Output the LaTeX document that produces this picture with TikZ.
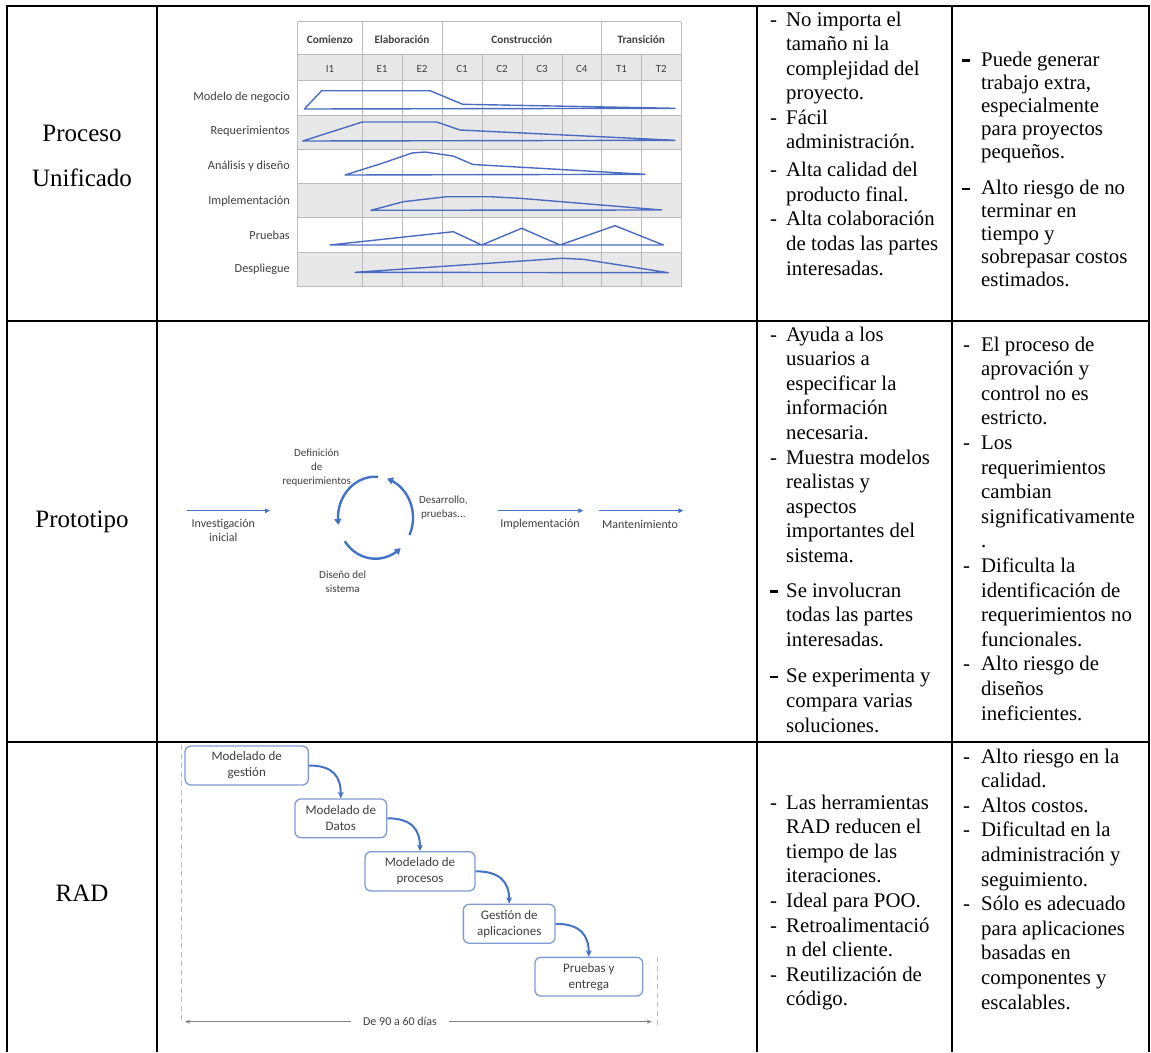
\documentclass[tikz,border=0pt]{standalone}
\usepackage{fontspec}
\setmainfont{Liberation Serif}
\newfontfamily\tnr{Liberation Serif}
\newfontfamily\calib{Carlito}
\usetikzlibrary{arrows.meta}
\definecolor{upblue}{HTML}{4A6CC0}
\definecolor{gridgray}{HTML}{BBBBBB}
\definecolor{cellgray}{HTML}{E8E8E8}
\definecolor{dtext}{HTML}{404040}
\definecolor{arrblue}{HTML}{4472C4}
\definecolor{boxblue}{HTML}{7F9BD0}
\definecolor{dashgray}{HTML}{BDBDBD}
\definecolor{hgray}{HTML}{808080}
\newcommand\bhy{\rule[4.4pt]{7.5pt}{2.6pt}}
\begin{document}
\begin{tikzpicture}[x=1pt,y=-1pt,
  tline/.style={line width=2pt,black},
  ugrid/.style={gridgray,line width=0.9pt},
  ushape/.style={upblue,line width=1.4pt,line join=round},
  ulbl/.style={inner sep=0pt,anchor=east,text=dtext,font=\calib\fontsize{12.3}{14}\selectfont},
  uhead/.style={inner sep=0pt,text=dtext,font=\calib\bfseries\fontsize{11.3}{13}\selectfont},
  uiter/.style={inner sep=0pt,text=dtext,font=\calib\fontsize{11}{13}\selectfont},
  parrow/.style={arrblue,line width=1.3pt,-{Triangle[length=5pt,width=4.5pt]}},
  cyc/.style={arrblue,line width=2.4pt,-{Triangle[length=6pt,width=7pt]}},
  plab/.style={inner sep=0pt,align=center,text=dtext,font=\calib\fontsize{12}{14}\selectfont},
  slab/.style={inner sep=0pt,align=center,text=dtext,font=\calib\fontsize{11}{14}\selectfont},
  radbox/.style={draw=boxblue,line width=1.3pt,rounded corners=6pt,fill=white,align=center,
     text=dtext,inner sep=0pt,font=\calib\fontsize{13}{16}\selectfont},
  radarrow/.style={arrblue,line width=2pt,-{Stealth[length=6.5pt,width=6pt]}},
  gline/.style={dashgray,line width=1pt,dash pattern=on 5pt off 4pt},
  garrow/.style={hgray,line width=1pt,{Stealth[length=5pt,width=4pt]}-{Stealth[length=5pt,width=4pt]}},
  cell/.style={inner sep=0pt,anchor=base west,font=\tnr\fontsize{20.8}{24.6}\selectfont},
  cellb/.style={inner sep=0pt,anchor=base west,font=\tnr\fontsize{20.8}{23.1}\selectfont},
  lab/.style={inner sep=0pt,anchor=base,font=\tnr\fontsize{25}{30}\selectfont}]
\useasboundingbox (0,0) rectangle (1151,1052);
\fill[white] (0,0) rectangle (1151,1052);

% ---------- table frame ----------
\draw[tline] (7,6) -- (1149,6);
\draw[tline] (7,321) -- (1149,321);
\draw[tline] (7,742) -- (1149,742);
\foreach \xx in {7,157,757,952,1149} \draw[tline] (\xx,5) -- (\xx,1052);

% ---------- left labels ----------
\node[lab] (l1a) at (82,141) {Proceso};
\node[lab] (l1b) at (82,186) {Unificado};
\node[lab] (l2) at (82,527) {Prototipo};
\node[lab] (l3) at (82,901) {RAD};

% ---------- Unified Process chart ----------
\fill[cellgray] (297.5,54.3) rectangle (681,80.7);
\fill[cellgray] (297.5,115) rectangle (681,149.3);
\fill[cellgray] (297.5,183.6) rectangle (681,217.9);
\fill[cellgray] (297.5,252.2) rectangle (681,286.5);
\foreach \yy in {21.7,54.3,80.7,115,149.3,183.6,217.9,252.2,286.5}
  \draw[ugrid] (297.5,\yy) -- (681,\yy);
\foreach \xx in {297.5,362,442,601.5,681}
  \draw[ugrid] (\xx,21.7) -- (\xx,286.5);
\foreach \xx in {402,482,522,562,641.5}
  \draw[ugrid] (\xx,54.3) -- (\xx,286.5);
\node[uhead] (h1) at (330,39.3) {Comienzo};
\node[uhead] (h2) at (402,39.3) {Elaboración};
\node[uhead] (h3) at (521.8,39.3) {Construcción};
\node[uhead] (h4) at (641.3,39.3) {Transición};
\node[uiter] (i1) at (330,68.5) {I1};
\node[uiter] (e1) at (382,68.5) {E1};
\node[uiter] (e2) at (422,68.5) {E2};
\node[uiter] (c1) at (462,68.5) {C1};
\node[uiter] (c2) at (502,68.5) {C2};
\node[uiter] (c3) at (542,68.5) {C3};
\node[uiter] (c4) at (581.8,68.5) {C4};
\node[uiter] (t1) at (621.5,68.5) {T1};
\node[uiter] (t2) at (661.3,68.5) {T2};
\node[ulbl] (d1) at (290,97.3) {Modelo de negocio};
\node[ulbl] (d2) at (290,131.7) {Requerimientos};
\node[ulbl] (d3) at (290,166) {Análisis y diseño};
\node[ulbl] (d4) at (290,201) {Implementación};
\node[ulbl] (d5) at (290,235.3) {Pruebas};
\node[ulbl] (d6) at (290,269.3) {Despliegue};
\draw[ushape] (304.3,109) -- (321.7,90.7) -- (430,90.7) -- (462.7,104.3) -- (675,108.3) -- cycle;
\draw[ushape] (302.7,141) -- (362.3,122) -- (436.7,122) -- (460,130) -- (675,140.3) -- cycle;
\draw[ushape] (345,175) -- (383,163) -- (412,153) -- (425,152) -- (453,156) -- (473,164.5) -- (645,174.3) -- cycle;
\draw[ushape] (371,210.3) -- (403.3,201.7) -- (446.7,196.7) -- (490,196.7) -- (520,198.3) -- (661.7,210) -- cycle;
\draw[ushape] (330,245) -- (453.3,231.7) -- (481.7,245) -- (521.7,228.3) -- (560,245) -- (615,225.7) -- (663.3,245) -- cycle;
\draw[ushape] (355,272.3) -- (561.7,258.3) -- (583.3,259.3) -- (668.3,272.7) -- cycle;

% ---------- Prototype diagram ----------
\coordinate (a1s) at (186.7,510.7); \coordinate (a1e) at (270,510.7);
\coordinate (a2s) at (498.3,510.7); \coordinate (a2e) at (583.3,510.7);
\coordinate (a3s) at (599.3,510.7); \coordinate (a3e) at (683.3,510.7);
\draw[parrow] (a1s) -- (a1e);
\draw[parrow] (a2s) -- (a2e);
\draw[parrow] (a3s) -- (a3e);
\node[plab] (pinv) at (223.3,530) {Investigación\\inicial};
\node[plab] (pimp) at (540,524) {Implementación};
\node[plab] (pman) at (640,524) {Mantenimiento};
\node[slab] (pdef) at (316.7,467.7) {Definición\\de\\requerimientos};
\node[slab] (pdes) at (443.3,507.5) {Desarrollo,\\pruebas...};
\node[slab] (pdis) at (342.7,582) {Diseño del\\sistema};
\draw[cyc] plot[domain=86:190,samples=40] ({375.5+37.5*cos(\x)},{517.7-41*sin(\x)});
\draw[cyc] plot[domain=215:312,samples=40] ({375.5+37.5*cos(\x)},{517.7-41*sin(\x)});
\draw[cyc] plot[domain=-25:72,samples=40] ({375.5+37.5*cos(\x)},{517.7-41*sin(\x)});

% ---------- RAD diagram ----------
\coordinate (v1a) at (181.7,745); \coordinate (v1b) at (181.7,1020);
\coordinate (v2a) at (657.3,957); \coordinate (v2b) at (657.3,1025);
\draw[gline] (v1a) -- (v1b);
\draw[gline] (v2a) -- (v2b);
\node[radbox,minimum width=123.3pt,minimum height=39pt] (b1) at (246.7,765.5) {Modelado de\\gestión};
\node[radbox,minimum width=91.7pt,minimum height=38.7pt] (b2) at (340.8,818.3) {Modelado de\\Datos};
\node[radbox,minimum width=110pt,minimum height=39.3pt] (b3) at (420,871.3) {Modelado de\\procesos};
\node[radbox,minimum width=91.7pt,minimum height=39pt] (b4) at (509.2,923.8) {Gestión de\\aplicaciones};
\node[radbox,minimum width=107.7pt,minimum height=38.7pt] (b5) at (588.8,976.7) {Pruebas y\\entrega};
\draw[radarrow] (b1.east) .. controls +(24,0) and +(0,-22) .. (b2.north);
\draw[radarrow] (b2.east) .. controls +(24,0) and +(0,-22) .. (b3.north);
\draw[radarrow] (b3.east) .. controls +(24,0) and +(0,-22) .. (b4.north);
\draw[radarrow] (b4.east) .. controls +(24,0) and +(0,-22) .. (b5.north);
\coordinate (hs) at (185,1021.7); \coordinate (he) at (651.7,1021.7);
\draw[garrow] (hs) -- node[pos=0.4607,fill=white,inner xsep=12pt,inner ysep=2pt,text=dtext,font=\calib\fontsize{12}{14}\selectfont] (hl) {De 90 a 60 días} (he);

% ---------- text cells ----------
\node[cell] (t11) at (770,26) {\begin{tabular}[t]{@{}p{16pt}@{}l@{}}
- & No importa el\\
  & tamaño ni la\\
  & complejidad del\\
  & proyecto.\\
- & Fácil\\
  & administración.\\[3pt]
- & Alta calidad del\\
  & producto final.\\
- & Alta colaboración\\
  & de todas las partes\\
  & interesadas.
\end{tabular}};
\node[cellb] (t12) at (962,66) {\begin{tabular}[t]{@{}p{19pt}@{}l@{}}
\bhy & Puede generar\\
  & trabajo extra,\\
  & especialmente\\
  & para proyectos\\
  & pequeños.\\[13pt]
\bhy & Alto riesgo de no\\
  & terminar en\\
  & tiempo y\\
  & sobrepasar costos\\
  & estimados.
\end{tabular}};
\node[cell] (t21) at (770,341) {\begin{tabular}[t]{@{}p{16pt}@{}l@{}}
- & Ayuda a los\\
  & usuarios a\\
  & especificar la\\
  & información\\
  & necesaria.\\
- & Muestra modelos\\
  & realistas y\\
  & aspectos\\
  & importantes del\\
  & sistema.\\[10pt]
\bhy & Se involucran\\
  & todas las partes\\
  & interesadas.\\[12pt]
\bhy & Se experimenta y\\
  & compara varias\\
  & soluciones.
\end{tabular}};
\node[cell] (t22) at (963,351) {\begin{tabular}[t]{@{}p{18pt}@{}l@{}}
- & El proceso de\\
  & aprovación y\\
  & control no es\\
  & estricto.\\
- & Los\\
  & requerimientos\\
  & cambian\\
  & significativamente\\
  & .\\
- & Dificulta la\\
  & identificación de\\
  & requerimientos no\\
  & funcionales.\\
- & Alto riesgo de\\
  & diseños\\
  & ineficientes.
\end{tabular}};
\node[cell] (t31) at (770,809) {\begin{tabular}[t]{@{}p{16pt}@{}l@{}}
- & Las herramientas\\
  & RAD reducen el\\
  & tiempo de las\\
  & iteraciones.\\
- & Ideal para POO.\\
- & Retroalimentació\\
  & n del cliente.\\
- & Reutilización de\\
  & código.
\end{tabular}};
\node[cell] (t32) at (963,763) {\begin{tabular}[t]{@{}p{18pt}@{}l@{}}
- & Alto riesgo en la\\
  & calidad.\\
- & Altos costos.\\
- & Dificultad en la\\
  & administración y\\
  & seguimiento.\\
- & Sólo es adecuado\\
  & para aplicaciones\\
  & basadas en\\
  & componentes y\\
  & escalables.
\end{tabular}};
\end{tikzpicture}
\end{document}
